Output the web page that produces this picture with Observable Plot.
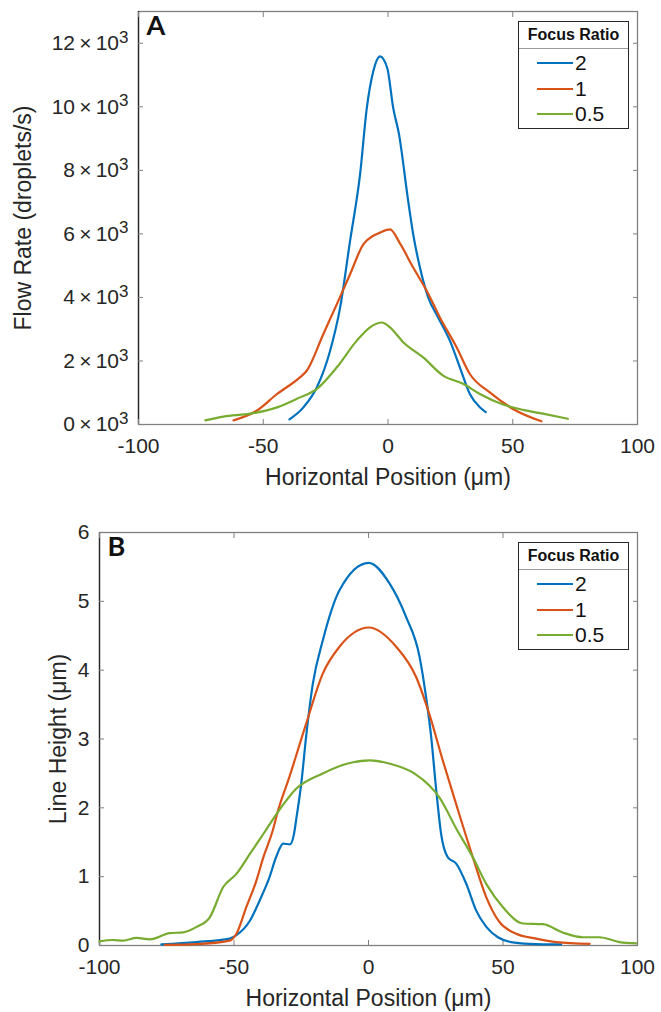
<!DOCTYPE html>
<html>
<head>
<meta charset="utf-8">
<script src="https://cdn.jsdelivr.net/npm/d3@7"></script>
<script src="https://cdn.jsdelivr.net/npm/@observablehq/plot@0.6"></script>
<style>
  body { margin: 0; background: #fff; }
  #wrap { position: relative; width: 661px; height: 1012px; overflow: hidden; font-family: "Liberation Sans", Arial, sans-serif; }
  .panel { position: absolute; left: 0; }
  .legend { position: absolute; box-sizing: border-box; border: 1px solid #262626; background: #fff; }
  .legend .lt { height: 26px; line-height: 26px; border-bottom: 1px solid #9a9a9a; font-weight: bold; font-size: 16px; text-align: center; color: #111; }
  .legend .row { position: absolute; left: 0; height: 24px; width: 100%; }
  .legend .sw { position: absolute; left: 18px; top: 11px; width: 36px; height: 0; border-top: 2px solid; }
  .legend .lb { position: absolute; left: 56px; top: 0; font-size: 21px; line-height: 24px; color: #111; }
</style>
</head>
<body>
<div id="wrap"></div>
<script>
// ---------- data ----------
const xTicks = [-100, -50, 0, 50, 100];
const aYTicks = [0, 2000, 4000, 6000, 8000, 10000, 12000];
const bYTicks = [0, 1, 2, 3, 4, 5, 6];
const seriesNames = ["2", "1", "0.5"];
const seriesColors = ["#0072BD", "#D95319", "#77AC30"];

// Panel A: Flow rate (droplets/s)
const aX_2 = [-39.5,-33.9,-28.5,-23.2,-19.2,-15.2,-11.2,-8.5,-5.9,-3.2,-0.3,2.1,4.4,8.1,10.1,12.8,16.1,20.1,24.8,28.8,32.8,36.8,39.2];
const aY_2 = [160,540,1170,2320,3680,5780,7870,9960,11120,11590,11220,9960,9140,7030,5990,4940,4000,3370,2640,1800,960,540,390];
const aX_1 = [-61.9,-52.5,-44.5,-35.2,-32.5,-25.9,-20.5,-15.2,-9.9,-5.9,-3.2,0.8,4.8,10.1,15.5,20.8,27.5,32.8,40.8,50.1,61.5];
const aY_1 = [130,440,960,1490,1700,2850,3790,4730,5670,5940,6040,6140,5700,4940,4210,3370,2430,1590,1010,490,100];
const aX_05 = [-73.2,-65.9,-55.2,-44.5,-36.5,-28.5,-20.5,-12.5,-7.2,-2.5,0.8,6.1,14.1,22.1,30.1,36.8,46.1,54.1,62.1,72.1];
const aY_05 = [130,250,340,540,810,1120,1800,2640,3060,3210,3060,2590,2110,1540,1280,960,630,460,340,180];

// Panel B: Line height (um)
const bX_2 = [-77,-63.9,-51.6,-49.1,-44.1,-40.5,-37,-34.2,-31.7,-29.2,-27.8,-26.8,-25,-23.2,-20.7,-17,-10.8,0.1,7.8,14,19,21.4,23.3,25.2,27,29.5,32.6,36.3,40,43.8,48.1,53,59.9,71.6];
const bY_2 = [0.015,0.05,0.10,0.15,0.36,0.65,0.97,1.30,1.48,1.47,1.60,1.85,2.35,3.03,3.80,4.43,5.16,5.56,5.26,4.77,4.19,3.61,3.03,2.25,1.62,1.28,1.19,0.90,0.51,0.27,0.12,0.05,0.025,0.015];
const bX_1 = [-75.7,-63.9,-51.6,-49.1,-45.4,-41.7,-39.1,-35.6,-33.7,-29.4,-23.2,-17,-10.8,0.1,10.3,17.7,22.7,27.6,33,38.8,43.8,48.5,54.9,62.3,69.8,82.2];
const bY_1 = [0.01,0.02,0.07,0.17,0.56,0.94,1.28,1.67,1.95,2.45,3.22,3.95,4.34,4.62,4.34,3.90,3.35,2.69,2.0,1.28,0.70,0.35,0.17,0.10,0.05,0.025];
const bX_05 = [-100,-94.9,-91.2,-86.2,-81.3,-73.9,-68.9,-63.9,-59,-54,-49.1,-44.1,-39.1,-34.2,-26.8,-17,-8,0.4,8,17,22.7,26.4,32.6,38.8,44,49.9,57.4,64.8,72.2,79.7,85.9,93.3,99.5];
const bY_05 = [0.06,0.08,0.07,0.11,0.09,0.18,0.19,0.27,0.41,0.85,1.04,1.33,1.62,1.91,2.28,2.50,2.64,2.69,2.64,2.50,2.32,2.15,1.70,1.28,0.88,0.56,0.32,0.31,0.19,0.12,0.12,0.05,0.03];

// ---------- build ----------
function toRows(xs, ys, s) { return xs.map((x, i) => ({ x, y: ys[i], s })); }

const FONT = "'Liberation Sans', Arial, sans-serif";
const TXT = "#262626";
const GRID = "#808080";

function panel({ series, yDomain, yTicks, yFormat, marginLeft, marginTop, marginBottom, height, letter, yLabel, yLabelDx }) {
  const lineMarks = series.map(([xs, ys], i) =>
    Plot.line(toRows(xs, ys, seriesNames[i]), { x: "x", y: "y", stroke: seriesColors[i], strokeWidth: 2.2, curve: "monotone-x" }));
  return Plot.plot({
    width: 661, height, marginLeft, marginRight: 24, marginTop, marginBottom,
    style: { fontFamily: FONT, fontSize: "21px", color: TXT, background: "#fff" },
    x: { domain: [-100, 100] },
    y: { domain: yDomain },
    marks: [
      Plot.frame({ stroke: GRID, strokeWidth: 1.3 }),
      Plot.ruleX([-100], { stroke: "#262626", strokeWidth: 1.3 }),
      Plot.axisX({ anchor: "bottom", ticks: xTicks, tickSize: -5, tickPadding: 19, tickFormat: d => String(d), label: null, stroke: GRID, fill: TXT, fontSize: 21 }),
      Plot.axisX({ anchor: "top", ticks: xTicks, tickSize: -5, tickFormat: () => "", label: null, stroke: GRID }),
      Plot.axisY({ anchor: "left", ticks: yTicks, tickSize: -5, tickPadding: 15, tickFormat: yFormat, label: null, stroke: GRID, fill: TXT, fontSize: 21 }),
      Plot.axisY({ anchor: "right", ticks: yTicks, tickSize: -5, tickFormat: () => "", label: null, stroke: GRID }),
      ...lineMarks,
      Plot.text([letter], { text: d => d, frameAnchor: "top-left", dx: 8, dy: 4, textAnchor: "start", lineAnchor: "top", fontSize: 27, fontFamily: "Lato, 'Open Sans', sans-serif", fontWeight: 700, fill: "#111" }),
      Plot.text(["Horizontal Position (μm)"], { text: d => d, frameAnchor: "bottom", dy: 53, textAnchor: "middle", lineAnchor: "middle", fontSize: 23, fill: TXT }),
      Plot.text([yLabel], { text: d => d, frameAnchor: "left", dx: yLabelDx, rotate: -90, textAnchor: "middle", lineAnchor: "middle", fontSize: 23, fill: TXT })
    ]
  });
}

function legend(top) {
  const lg = document.createElement("div");
  lg.className = "legend";
  Object.assign(lg.style, { left: "518px", top: top + "px", width: "111px", height: "108px" });
  const t = document.createElement("div");
  t.className = "lt"; t.textContent = "Focus Ratio";
  lg.appendChild(t);
  seriesNames.forEach((n, i) => {
    const r = document.createElement("div");
    r.className = "row"; r.style.top = (29 + i * 25.5) + "px";
    const sw = document.createElement("div"); sw.className = "sw"; sw.style.borderTopColor = seriesColors[i];
    const lb = document.createElement("div"); lb.className = "lb"; lb.textContent = n;
    r.appendChild(sw); r.appendChild(lb); lg.appendChild(r);
  });
  return lg;
}

const wrap = document.getElementById("wrap");

const pa = panel({
  series: [[aX_2, aY_2], [aX_1, aY_1], [aX_05, aY_05]],
  yDomain: [0, 13000], yTicks: aYTicks, yFormat: d => `${d / 1000}\u2009×\u200910^3`,
  marginLeft: 138, marginTop: 11, marginBottom: 76, height: 500,
  letter: "A", yLabel: "Flow Rate (droplets/s)", yLabelDx: -115
});
// render the exponent as a raised superscript
d3.select(pa).selectAll('g[aria-label="y-axis tick label"] text').each(function () {
  const t = this.textContent;
  const k = t.indexOf("^");
  if (k >= 0) {
    const el = d3.select(this);
    el.text(t.slice(0, k));
    el.append("tspan").attr("dy", "-0.42em").attr("font-size", 17).text(t.slice(k + 1));
  }
});
const da = document.createElement("div"); da.className = "panel"; da.style.top = "0px"; da.appendChild(pa);
wrap.appendChild(da);

const pb = panel({
  series: [[bX_2, bY_2], [bX_1, bY_1], [bX_05, bY_05]],
  yDomain: [0, 6], yTicks: bYTicks, yFormat: d => String(d),
  marginLeft: 99, marginTop: 32, marginBottom: 67, height: 512,
  letter: "B", yLabel: "Line Height (μm)", yLabelDx: -41
});
const db = document.createElement("div"); db.className = "panel"; db.style.top = "500px"; db.appendChild(pb);
wrap.appendChild(db);

wrap.appendChild(legend(21));
wrap.appendChild(legend(542));
</script>
</body>
</html>
